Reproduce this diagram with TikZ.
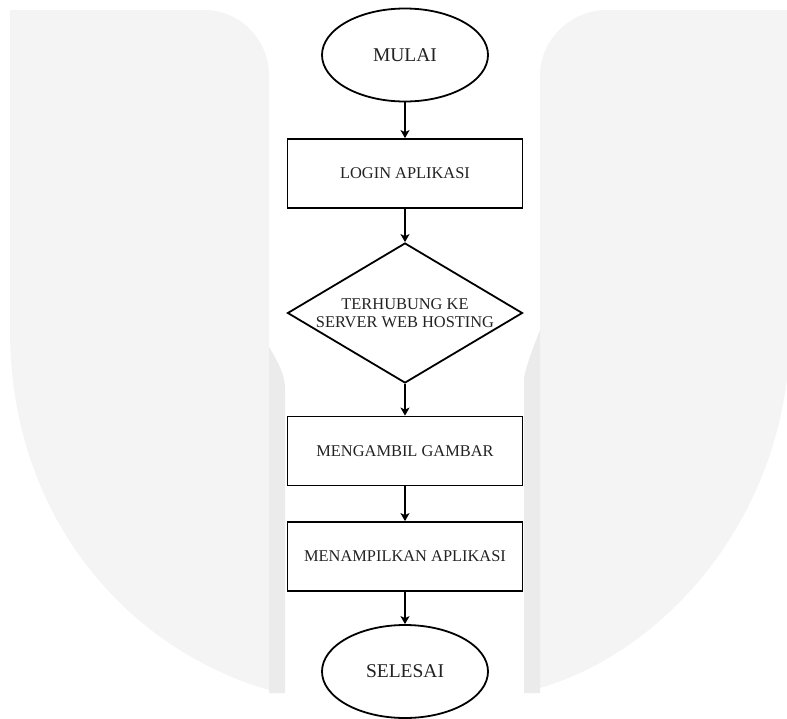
\documentclass[tikz,border=0pt]{standalone}
\usepackage{fontspec}
\setmainfont{Liberation Serif}
\usetikzlibrary{shapes.geometric,arrows.meta}
\definecolor{wmlight}{HTML}{F4F4F5}
\definecolor{wmdark}{HTML}{EBEBEC}
\definecolor{txt}{HTML}{222222}
\begin{document}
\begin{tikzpicture}[x=1pt,y=-1pt,
  terminal/.style={draw,ellipse,line width=1.8pt,minimum width=166pt,minimum height=93pt,inner sep=0pt,text=txt,font=\fontsize{19.5}{22}\selectfont},
  process/.style={draw,rectangle,line width=1.8pt,minimum width=235pt,minimum height=69pt,inner sep=0pt,text=txt,font=\fontsize{16.4}{18}\selectfont},
  decision/.style={draw,diamond,shape aspect=1.68,line width=1.8pt,minimum width=235pt,minimum height=140pt,inner sep=0pt,align=center,text=txt,font=\fontsize{16.4}{18}\selectfont},
  flow/.style={line width=1.8pt,-{Stealth[length=8pt,width=9pt,inset=2pt]}}]
  \useasboundingbox (0,0) rectangle (787,718);
  % watermark behind the chart
  \fill[wmlight] (10,330) -- (10,10) -- (205,10) .. controls (240,10) and (269,40) .. (269,75) -- (269,690) .. controls (130,650) and (10,520) .. (10,330) -- cycle;
  \fill[wmdark] (269,347) .. controls (277,360) and (285,375) .. (285,387) -- (285,693) -- (269,693) -- cycle;
  \fill[wmlight] (540,75) .. controls (540,40) and (571,10) .. (606,10) -- (787,10) -- (787,330) -- (790,330) .. controls (790,510) and (670,650) .. (540,688) -- cycle;
  \fill[wmdark] (524,377) .. controls (528,360) and (536,340) .. (540,330) -- (540,693) -- (524,693) -- cycle;

  \node[terminal] (mulai) at (405,55) {MULAI};
  \node[process] (login) at (405,173.5) {LOGIN APLIKASI};
  \node[decision] (server) at (405,313) {TERHUBUNG KE\\SERVER WEB HOSTING};
  \node[process] (gambar) at (405,451) {MENGAMBIL GAMBAR};
  \node[process] (tampil) at (405,556.5) {MENAMPILKAN APLIKASI};
  \node[terminal] (selesai) at (405,671.5) {SELESAI};
  \draw[flow] (mulai) -- (login);
  \draw[flow] (login) -- (server);
  \draw[flow] (server) -- (gambar);
  \draw[flow] (gambar) -- (tampil);
  \draw[flow] (tampil) -- (selesai);
\end{tikzpicture}
\end{document}
